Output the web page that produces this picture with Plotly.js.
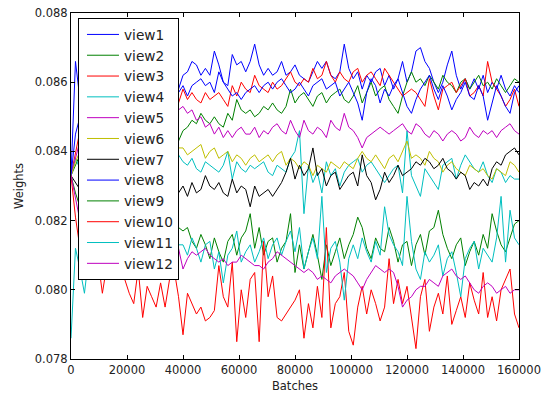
<!DOCTYPE html>
<html>
<head>
<meta charset="utf-8">
<script src="https://cdn.plot.ly/plotly-3.0.1.min.js"></script>
<style>
html,body{margin:0;padding:0;background:#fff;}
#chart{width:545px;height:398px;}
</style>
</head>
<body>
<div id="chart"></div>
<script>
const batches = [0,1600,3200,4800,6400,8000,9600,11200,12800,14400,16000,17600,19200,20800,22400,24000,25600,27200,28800,30400,32000,33600,35200,36800,38400,40000,41600,43200,44800,46400,48000,49600,51200,52800,54400,56000,57600,59200,60800,62400,64000,65600,67200,68800,70400,72000,73600,75200,76800,78400,80000,81600,83200,84800,86400,88000,89600,91200,92800,94400,96000,97600,99200,100800,102400,104000,105600,107200,108800,110400,112000,113600,115200,116800,118400,120000,121600,123200,124800,126400,128000,129600,131200,132800,134400,136000,137600,139200,140800,142400,144000,145600,147200,148800,150400,152000,153600,155200,156800,158400,160000];

const view1 = [0.0833,0.0866,0.0855,0.0860,0.0857,0.0862,0.0859,0.0864,0.0860,0.0857,
0.0862,0.0865,0.0860,0.0863,0.0858,0.0862,0.0866,0.0861,0.0864,0.0859,
0.0863,0.0860,0.0865,0.0861,0.0858,0.0862,0.0863,0.0866,0.0865,0.0862,
0.0864,0.0862,0.0869,0.0865,0.0860,0.0859,0.0868,0.0865,0.0866,0.0863,
0.0866,0.0871,0.0865,0.0862,0.0864,0.0862,0.0863,0.0866,0.0862,0.0863,
0.0865,0.0862,0.0861,0.0860,0.0863,0.0866,0.0864,0.0866,0.0862,0.0861,
0.0863,0.0871,0.0864,0.0861,0.0863,0.0858,0.0862,0.0860,0.0863,0.0864,
0.0859,0.0862,0.0858,0.0861,0.0866,0.0860,0.0863,0.0869,0.0870,0.0866,
0.0864,0.0860,0.0857,0.0860,0.0865,0.0869,0.0862,0.0858,0.0861,0.0858,
0.0861,0.0858,0.0862,0.0857,0.0860,0.0858,0.0862,0.0858,0.0856,0.0859,
0.0857];

const view2 = [0.0833,0.0836,0.0839,0.0842,0.0840,0.0843,0.0845,0.0843,0.0846,0.0844,
0.0847,0.0845,0.0843,0.0846,0.0848,0.0845,0.0847,0.0844,0.0846,0.0848,
0.0845,0.0847,0.0844,0.0846,0.0843,0.0846,0.0847,0.0849,0.0848,0.0851,
0.0849,0.0848,0.0850,0.0848,0.0847,0.0851,0.0849,0.0855,0.0852,0.0851,
0.0852,0.0850,0.0851,0.0853,0.0852,0.0854,0.0852,0.0851,0.0853,0.0858,
0.0854,0.0856,0.0857,0.0855,0.0853,0.0856,0.0857,0.0854,0.0856,0.0857,
0.0858,0.0855,0.0854,0.0856,0.0859,0.0854,0.0857,0.0860,0.0856,0.0858,
0.0859,0.0855,0.0853,0.0851,0.0856,0.0860,0.0863,0.0860,0.0861,0.0859,
0.0862,0.0860,0.0858,0.0862,0.0860,0.0859,0.0857,0.0860,0.0861,0.0858,
0.0860,0.0862,0.0859,0.0860,0.0858,0.0861,0.0859,0.0857,0.0859,0.0861,
0.0860];

const view3 = [0.0833,0.0840,0.0846,0.0850,0.0853,0.0851,0.0855,0.0853,0.0856,0.0854,
0.0857,0.0855,0.0858,0.0856,0.0854,0.0857,0.0855,0.0858,0.0856,0.0854,
0.0857,0.0855,0.0858,0.0856,0.0854,0.0858,0.0855,0.0857,0.0855,0.0854,
0.0857,0.0855,0.0856,0.0857,0.0855,0.0853,0.0859,0.0856,0.0860,0.0858,
0.0857,0.0862,0.0859,0.0858,0.0857,0.0860,0.0858,0.0859,0.0861,0.0863,
0.0860,0.0859,0.0861,0.0860,0.0864,0.0861,0.0862,0.0866,0.0862,0.0860,
0.0863,0.0861,0.0860,0.0863,0.0864,0.0860,0.0862,0.0863,0.0861,0.0859,
0.0864,0.0862,0.0860,0.0858,0.0856,0.0857,0.0858,0.0857,0.0855,0.0853,
0.0861,0.0856,0.0852,0.0858,0.0859,0.0860,0.0857,0.0859,0.0861,0.0856,
0.0857,0.0859,0.0856,0.0866,0.0860,0.0858,0.0856,0.0853,0.0855,0.0858,
0.0853];

const view4 = [0.0833,0.0838,0.0835,0.0839,0.0836,0.0840,0.0837,0.0835,0.0838,0.0836,
0.0839,0.0837,0.0834,0.0837,0.0839,0.0836,0.0838,0.0835,0.0837,0.0839,
0.0836,0.0838,0.0835,0.0837,0.0839,0.0837,0.0836,0.0838,0.0835,0.0834,
0.0837,0.0836,0.0835,0.0834,0.0836,0.0840,0.0832,0.0837,0.0835,0.0834,
0.0836,0.0835,0.0836,0.0837,0.0834,0.0833,0.0836,0.0835,0.0834,0.0838,
0.0840,0.0846,0.0822,0.0836,0.0831,0.0834,0.0828,0.0837,0.0833,0.0835,
0.0830,0.0834,0.0836,0.0837,0.0838,0.0834,0.0836,0.0837,0.0835,0.0833,
0.0831,0.0833,0.0835,0.0836,0.0828,0.0846,0.0833,0.0830,0.0827,0.0835,
0.0833,0.0831,0.0829,0.0836,0.0837,0.0838,0.0832,0.0836,0.0839,0.0837,
0.0835,0.0834,0.0837,0.0833,0.0831,0.0835,0.0834,0.0831,0.0833,0.0832,
0.0832];

const view5 = [0.0833,0.0838,0.0843,0.0846,0.0849,0.0847,0.0850,0.0848,0.0851,0.0849,
0.0852,0.0850,0.0853,0.0851,0.0849,0.0852,0.0850,0.0853,0.0851,0.0854,
0.0852,0.0850,0.0853,0.0851,0.0852,0.0853,0.0851,0.0852,0.0849,0.0850,
0.0847,0.0848,0.0845,0.0847,0.0844,0.0846,0.0844,0.0846,0.0847,0.0845,
0.0845,0.0847,0.0844,0.0846,0.0845,0.0847,0.0848,0.0846,0.0845,0.0849,
0.0846,0.0844,0.0849,0.0846,0.0845,0.0847,0.0846,0.0844,0.0849,0.0847,
0.0846,0.0851,0.0847,0.0846,0.0844,0.0841,0.0844,0.0845,0.0846,0.0847,
0.0846,0.0845,0.0846,0.0847,0.0848,0.0846,0.0845,0.0848,0.0847,0.0845,
0.0844,0.0846,0.0845,0.0843,0.0845,0.0846,0.0845,0.0843,0.0844,0.0847,
0.0845,0.0844,0.0846,0.0845,0.0846,0.0844,0.0846,0.0847,0.0848,0.0846,
0.0845];

const view6 = [0.0833,0.0837,0.0840,0.0842,0.0840,0.0843,0.0841,0.0844,0.0842,0.0840,
0.0843,0.0841,0.0844,0.0842,0.0840,0.0843,0.0841,0.0844,0.0842,0.0841,
0.0843,0.0840,0.0842,0.0844,0.0841,0.0841,0.0839,0.0840,0.0841,0.0842,
0.0838,0.0840,0.0841,0.0838,0.0839,0.0840,0.0837,0.0839,0.0838,0.0836,
0.0838,0.0839,0.0837,0.0838,0.0839,0.0837,0.0839,0.0840,0.0836,0.0838,
0.0837,0.0835,0.0837,0.0836,0.0833,0.0836,0.0835,0.0834,0.0837,0.0836,
0.0835,0.0837,0.0836,0.0835,0.0838,0.0840,0.0838,0.0837,0.0839,0.0837,
0.0835,0.0838,0.0839,0.0837,0.0840,0.0843,0.0838,0.0839,0.0838,0.0836,
0.0840,0.0838,0.0837,0.0834,0.0836,0.0837,0.0835,0.0834,0.0833,0.0836,
0.0835,0.0834,0.0835,0.0833,0.0832,0.0835,0.0834,0.0833,0.0837,0.0836,
0.0834];

const view7 = [0.0833,0.0831,0.0829,0.0832,0.0828,0.0831,0.0829,0.0833,0.0830,0.0828,
0.0831,0.0829,0.0832,0.0830,0.0827,0.0830,0.0832,0.0829,0.0831,0.0828,
0.0830,0.0832,0.0829,0.0831,0.0828,0.0830,0.0827,0.0831,0.0828,0.0829,
0.0833,0.0830,0.0829,0.0831,0.0828,0.0827,0.0832,0.0828,0.0830,0.0829,
0.0824,0.0830,0.0827,0.0828,0.0829,0.0827,0.0829,0.0831,0.0834,0.0838,
0.0832,0.0836,0.0833,0.0835,0.0841,0.0833,0.0835,0.0830,0.0833,0.0834,
0.0829,0.0831,0.0833,0.0834,0.0830,0.0839,0.0833,0.0831,0.0826,0.0829,
0.0834,0.0831,0.0833,0.0836,0.0833,0.0834,0.0835,0.0837,0.0836,0.0838,
0.0837,0.0835,0.0836,0.0838,0.0835,0.0834,0.0832,0.0834,0.0833,0.0829,
0.0831,0.0830,0.0832,0.0830,0.0835,0.0837,0.0836,0.0839,0.0840,0.0841,
0.0839];

const view8 = [0.0833,0.0845,0.0850,0.0853,0.0851,0.0856,0.0854,0.0858,0.0855,0.0859,
0.0856,0.0853,0.0857,0.0860,0.0856,0.0858,0.0855,0.0859,0.0857,0.0861,
0.0856,0.0858,0.0855,0.0859,0.0857,0.0859,0.0856,0.0859,0.0860,0.0861,
0.0859,0.0860,0.0857,0.0863,0.0860,0.0858,0.0856,0.0857,0.0855,0.0857,
0.0858,0.0859,0.0857,0.0859,0.0860,0.0858,0.0860,0.0861,0.0859,0.0857,
0.0858,0.0860,0.0858,0.0856,0.0859,0.0860,0.0861,0.0858,0.0859,0.0860,
0.0856,0.0858,0.0860,0.0857,0.0854,0.0849,0.0857,0.0861,0.0859,0.0854,
0.0858,0.0856,0.0859,0.0861,0.0857,0.0853,0.0851,0.0855,0.0858,0.0860,
0.0862,0.0858,0.0855,0.0859,0.0856,0.0852,0.0855,0.0857,0.0860,0.0856,
0.0855,0.0859,0.0856,0.0849,0.0854,0.0859,0.0856,0.0853,0.0851,0.0857,
0.0859];

const view9 = [0.0833,0.0828,0.0824,0.0821,0.0823,0.0820,0.0822,0.0819,0.0821,0.0818,
0.0820,0.0817,0.0819,0.0821,0.0818,0.0820,0.0817,0.0819,0.0816,0.0818,
0.0820,0.0817,0.0819,0.0816,0.0818,0.0817,0.0818,0.0814,0.0812,0.0816,
0.0813,0.0809,0.0815,0.0811,0.0808,0.0814,0.0816,0.0810,0.0815,0.0817,
0.0822,0.0812,0.0818,0.0810,0.0814,0.0815,0.0808,0.0812,0.0814,0.0822,
0.0805,0.0813,0.0806,0.0811,0.0816,0.0810,0.0803,0.0813,0.0807,0.0811,
0.0815,0.0809,0.0813,0.0816,0.0821,0.0818,0.0812,0.0809,0.0815,0.0812,
0.0811,0.0818,0.0814,0.0808,0.0813,0.0814,0.0807,0.0813,0.0816,0.0810,
0.0817,0.0818,0.0823,0.0816,0.0812,0.0809,0.0813,0.0815,0.0807,0.0811,
0.0814,0.0810,0.0816,0.0812,0.0822,0.0817,0.0813,0.0811,0.0815,0.0819,
0.0820];

const view10 = [0.0833,0.0821,0.0812,0.0808,0.0811,0.0806,0.0809,0.0799,0.0807,0.0810,
0.0805,0.0808,0.0803,0.0799,0.0796,0.0806,0.0792,0.0801,0.0798,0.0795,
0.0802,0.0795,0.0803,0.0806,0.0798,0.0787,0.0799,0.0796,0.0793,0.0795,
0.0791,0.0792,0.0794,0.0807,0.0798,0.0795,0.0808,0.0785,0.0800,0.0792,
0.0803,0.0805,0.0785,0.0814,0.0798,0.0804,0.0792,0.0791,0.0793,0.0795,
0.0797,0.0800,0.0786,0.0796,0.0789,0.0801,0.0792,0.0818,0.0789,0.0796,
0.0798,0.0805,0.0788,0.0784,0.0795,0.0801,0.0793,0.0800,0.0796,0.0791,
0.0795,0.0809,0.0796,0.0803,0.0796,0.0801,0.0792,0.0783,0.0798,0.0803,
0.0788,0.0795,0.0799,0.0793,0.0804,0.0790,0.0794,0.0798,0.0792,0.0802,
0.0797,0.0793,0.0805,0.0792,0.0798,0.0791,0.0800,0.0803,0.0806,0.0793,
0.0789];

const view11 = [0.0786,0.0812,0.0806,0.0799,0.0810,0.0814,0.0808,0.0812,0.0817,0.0811,
0.0815,0.0809,0.0813,0.0818,0.0812,0.0816,0.0810,0.0814,0.0819,0.0813,
0.0816,0.0811,0.0815,0.0818,0.0813,0.0813,0.0810,0.0815,0.0812,0.0808,
0.0813,0.0814,0.0806,0.0811,0.0802,0.0810,0.0812,0.0817,0.0808,0.0811,
0.0813,0.0808,0.0811,0.0815,0.0809,0.0813,0.0815,0.0810,0.0814,0.0817,
0.0811,0.0818,0.0806,0.0811,0.0815,0.0809,0.0827,0.0805,0.0812,0.0814,
0.0808,0.0797,0.0809,0.0813,0.0809,0.0815,0.0811,0.0808,0.0814,0.0810,
0.0824,0.0816,0.0813,0.0811,0.0807,0.0827,0.0814,0.0806,0.0803,0.0811,
0.0808,0.0810,0.0813,0.0804,0.0809,0.0811,0.0805,0.0798,0.0809,0.0812,
0.0814,0.0806,0.0812,0.0810,0.0808,0.0815,0.0827,0.0808,0.0823,0.0815,
0.0813];

const view12 = [0.0833,0.0826,0.0820,0.0816,0.0818,0.0814,0.0816,0.0813,0.0815,0.0812,
0.0814,0.0811,0.0813,0.0810,0.0812,0.0814,0.0811,0.0813,0.0810,0.0812,
0.0809,0.0811,0.0813,0.0810,0.0812,0.0806,0.0809,0.0811,0.0810,0.0811,
0.0812,0.0810,0.0809,0.0808,0.0809,0.0807,0.0808,0.0808,0.0810,0.0809,
0.0808,0.0807,0.0807,0.0806,0.0808,0.0809,0.0811,0.0810,0.0809,0.0808,
0.0807,0.0806,0.0805,0.0806,0.0805,0.0803,0.0804,0.0803,0.0802,0.0804,
0.0805,0.0806,0.0805,0.0804,0.0802,0.0800,0.0803,0.0805,0.0807,0.0806,
0.0805,0.0806,0.0805,0.0801,0.0795,0.0797,0.0798,0.0800,0.0801,0.0801,
0.0803,0.0802,0.0801,0.0804,0.0805,0.0806,0.0804,0.0803,0.0804,0.0802,
0.0800,0.0799,0.0801,0.0802,0.0801,0.0799,0.0800,0.0801,0.0799,0.0800,
0.0800];

const seriesNames = ['view1','view2','view3','view4','view5','view6','view7','view8','view9','view10','view11','view12'];
const seriesValues = [view1,view2,view3,view4,view5,view6,view7,view8,view9,view10,view11,view12];
const xTicks = [0,20000,40000,60000,80000,100000,120000,140000,160000];
const yTicks = [0.078,0.080,0.082,0.084,0.086,0.088];

const lineColors = ['#0000ff','#008000','#ff0000','#00bfbf','#bf00bf','#bfbf00','#000000','#0000ff','#008000','#ff0000','#00bfbf','#bf00bf'];

const traces = seriesNames.map((name, k) => ({
  type: 'scatter',
  mode: 'lines',
  name: name,
  x: batches,
  y: seriesValues[k],
  line: {color: lineColors[k], width: 1}
}));

const font = {family: 'DejaVu Sans, sans-serif', color: '#222'};

const layout = {
  width: 545,
  height: 398,
  margin: {l: 71, r: 26, t: 13, b: 39, pad: 0},
  paper_bgcolor: '#ffffff',
  plot_bgcolor: '#ffffff',
  showlegend: true,
  font: Object.assign({size: 11.5}, font),
  xaxis: {
    range: [0, 160000],
    tickvals: xTicks,
    ticktext: xTicks.map(v => String(v)),
    ticks: 'inside',
    ticklen: 4,
    tickcolor: '#000',
    showline: true,
    linecolor: '#000',
    linewidth: 1,
    mirror: 'ticks',
    showgrid: false,
    zeroline: false,
    tickfont: Object.assign({size: 11.5}, font),
    title: {text: 'Batches', font: Object.assign({size: 11.5}, font), standoff: 6}
  },
  yaxis: {
    range: [0.078, 0.088],
    tickvals: yTicks,
    ticktext: yTicks.map(v => v.toFixed(3)),
    ticks: 'inside',
    ticklen: 4,
    tickcolor: '#000',
    showline: true,
    linecolor: '#000',
    linewidth: 1,
    mirror: 'ticks',
    showgrid: false,
    zeroline: false,
    tickfont: Object.assign({size: 11.5}, font),
    title: {text: 'Weights', font: Object.assign({size: 11.5}, font), standoff: 8}
  },
  legend: {
    x: 0.0156,
    y: 0.9855,
    xanchor: 'left',
    yanchor: 'top',
    bgcolor: '#ffffff',
    bordercolor: '#000000',
    borderwidth: 1,
    font: Object.assign({size: 13.7}, font),
    tracegroupgap: 0,
    indentation: 3,
    itemwidth: 32
  }
};

Plotly.newPlot('chart', traces, layout, {staticPlot: true, displayModeBar: false});
</script>
</body>
</html>
